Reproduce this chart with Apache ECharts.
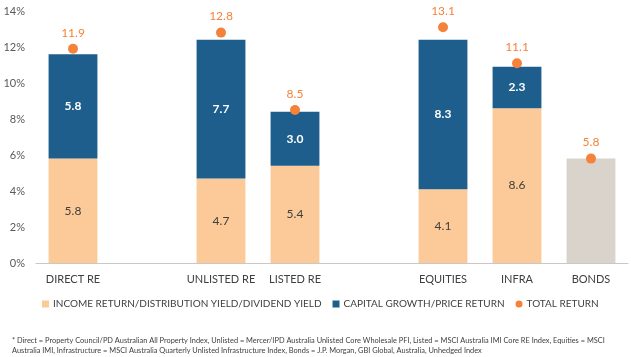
<!DOCTYPE html>
<html>
<head>
<meta charset="utf-8">
<script src="https://cdn.jsdelivr.net/npm/echarts@6/dist/echarts.min.js"></script>
<style>
html,body{margin:0;padding:0;background:#fff;}
#chart{width:631px;height:357px;}
</style>
</head>
<body>
<div id="chart"></div>
<script>
const categories = ['DIRECT RE', '', 'UNLISTED RE', 'LISTED RE', '', 'EQUITIES', 'INFRA', 'BONDS'];
const incomeReturn = [5.8, null, 4.7, 5.4, null, 4.1, 8.6, null];
const capitalGrowth = [5.8, null, 7.7, 3.0, null, 8.3, 2.3, null];
const bondsReturn = [null, null, null, null, null, null, null, 5.8];
const totalReturn = [11.9, null, 12.8, 8.5, null, 13.1, 11.1, 5.8];
const yTicks = [0, 2, 4, 6, 8, 10, 12, 14];
const legendNames = ['INCOME RETURN/DISTRIBUTION YIELD/DIVIDEND YIELD', 'CAPITAL GROWTH/PRICE RETURN', 'TOTAL RETURN'];
const footnote1 = '* Direct = Property Council/PD Australian All Property Index, Unlisted = Mercer/IPD Australia Unlisted Core Wholesale PFI, Listed = MSCI Australia IMI Core RE Index, Equities = MSCI';
const footnote2 = 'Australia IMI, Infrastructure = MSCI Australia Quarterly Unlisted Infrastructure Index, Bonds = J.P. Morgan, GBI Global, Australia, Unhedged Index';

const FONT = 'Lato';
const mctx = document.createElement('canvas').getContext('2d');
function fitSize(text, targetWidth) {
  mctx.font = '100px ' + FONT;
  return Math.round(100 * targetWidth / mctx.measureText(text).width * 10) / 10;
}
const legendSize = fitSize(legendNames[0], 268);
const noteSize = fitSize(footnote1, 594);

const chart = echarts.init(document.getElementById('chart'));
chart.setOption({
  animation: false,
  textStyle: { fontFamily: FONT },
  grid: { left: 36, right: 3, top: 11, bottom: 94, containLabel: false },
  legend: {
    data: [
      { name: legendNames[0], icon: 'rect' },
      { name: legendNames[1], icon: 'rect' },
      { name: legendNames[2], icon: 'circle' }
    ],
    left: 37, top: 294, width: 600,
    itemWidth: 7, itemHeight: 7, itemGap: 11,
    textStyle: { color: '#404040', fontSize: legendSize, fontFamily: FONT, padding: [0, 0, 0, -1] }
  },
  xAxis: {
    type: 'category',
    data: categories,
    axisLine: { lineStyle: { color: '#c8c8c8', width: 1 } },
    axisTick: { show: false },
    axisLabel: { color: '#404040', fontSize: 11, margin: 11, interval: 0 },
    splitLine: { show: false }
  },
  yAxis: {
    type: 'value',
    min: yTicks[0], max: yTicks[yTicks.length - 1], interval: 2,
    axisLine: { show: false },
    axisTick: { show: false },
    splitLine: { show: false },
    axisLabel: { color: '#595959', fontSize: 11, margin: 11, formatter: '{value}%' }
  },
  series: [
    {
      name: legendNames[0], type: 'bar', stack: 'r', barWidth: '66%',
      data: incomeReturn,
      itemStyle: { color: '#FBCA98' },
      label: { show: true, position: 'inside', color: '#404040', fontSize: 12 }
    },
    {
      name: legendNames[1], type: 'bar', stack: 'r', barWidth: '66%',
      data: capitalGrowth,
      itemStyle: { color: '#1D5E8C' },
      label: { show: true, position: 'inside', color: '#ffffff', fontSize: 12, fontWeight: 'bold',
        formatter: p => p.value.toFixed(1) }
    },
    {
      name: 'BONDS', type: 'bar', stack: 'r', barWidth: '66%',
      data: bondsReturn,
      itemStyle: { color: '#D9D3CC' },
      label: { show: false }
    },
    {
      name: legendNames[2], type: 'scatter',
      data: totalReturn,
      symbolSize: 10,
      itemStyle: { color: '#F5823B', opacity: 1 },
      label: { show: true, position: 'top', distance: 5, color: '#F5823B', fontSize: 12,
        formatter: p => p.value.toFixed(1) },
      z: 5
    }
  ],
  graphic: [
    { type: 'text', left: 12, top: 337, style: { text: footnote1, fill: '#404040', font: noteSize + 'px ' + FONT } },
    { type: 'text', left: 12, top: 347, style: { text: footnote2, fill: '#404040', font: noteSize + 'px ' + FONT } }
  ]
});
</script>
</body>
</html>
